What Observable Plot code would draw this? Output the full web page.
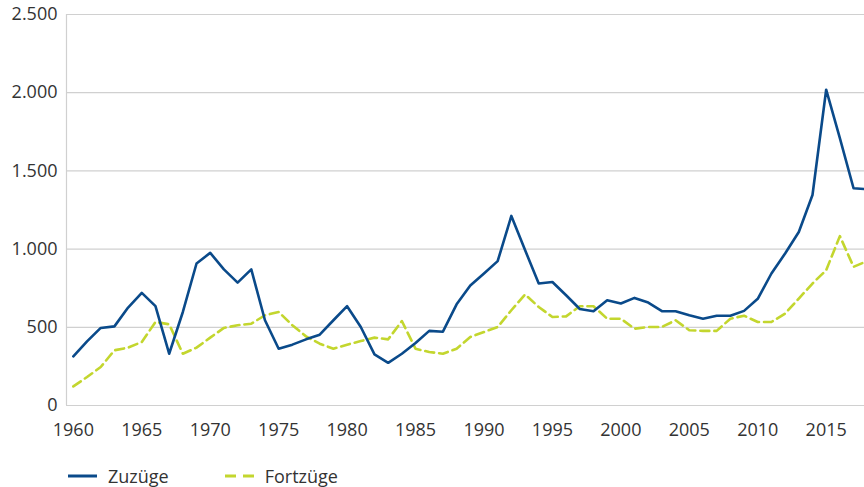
<!DOCTYPE html>
<html>
<head>
<meta charset="utf-8">
<script src="https://cdn.jsdelivr.net/npm/d3@7"></script>
<script src="https://cdn.jsdelivr.net/npm/@observablehq/plot@0.6"></script>
<style>
  body { margin: 0; background: #fff; font-family: "Open Sans", "Noto Sans", sans-serif; }
  #legend { display: flex; align-items: center; height: 42px; padding-top: 19px; box-sizing: border-box; font-size: 18px; color: #333; }
  .item { display: flex; align-items: center; }
</style>
</head>
<body>
<div id="chart"></div>
<div id="legend"></div>
<script>
const years = d3.range(1960, 2019);
const zuzuege = [314, 410, 496, 506, 626, 720, 635, 331, 598, 908,
  976, 870, 786, 870, 545, 363, 389, 423, 453, 545,
  635, 502, 327, 273, 331, 400, 477, 472, 647, 767,
  844, 923, 1212, 994, 780, 790, 705, 617, 603, 673,
  652, 688, 658, 603, 603, 577, 555, 574, 574, 605,
  682, 844, 972, 1109, 1346, 2019, 1709, 1389, 1383];
const fortzuege = [122, 182, 246, 353, 370, 406, 534, 519, 331, 370,
  434, 496, 513, 523, 577, 598, 513, 442, 395, 363,
  389, 412, 434, 423, 540, 363, 342, 331, 363, 438,
  470, 502, 609, 710, 630, 566, 570, 635, 635, 555,
  555, 491, 502, 502, 545, 481, 477, 477, 555, 574,
  534, 534, 588, 684, 780, 865, 1083, 887, 923];
const seriesNames = ["Zuzüge", "Fortzüge"];
const xTicks = d3.range(1960, 2016, 5);
const yTicks = [0, 500, 1000, 1500, 2000, 2500];

const blue = "#0a4a8a";
const green = "#c3d62e";

const rowsZ = years.map((y, i) => ({year: y, value: zuzuege[i]}));
const rowsF = years.map((y, i) => ({year: y, value: fortzuege[i]}));

const de = d3.formatLocale({decimal: ",", thousands: ".", grouping: [3], currency: ["", "€"]});
const fmt = de.format(",d");

const plot = Plot.plot({
  width: 864,
  height: 445,
  marginLeft: 66,
  marginRight: 0,
  marginTop: 14,
  marginBottom: 40,
  style: {fontFamily: "'Open Sans', 'Noto Sans', sans-serif", fontSize: "18px", color: "#333", background: "#fff"},
  x: {domain: [1959.5, 2017.8], label: null},
  y: {domain: [0, 2500], label: null},
  marks: [
    Plot.gridY(yTicks, {stroke: "#d0d0d0", strokeOpacity: 1, strokeWidth: 1.2}),
    Plot.ruleX([1959.5], {y1: 0, y2: 2500, stroke: "#d0d0d0", strokeWidth: 1.2}),
    Plot.axisX({ticks: xTicks, tickFormat: d => String(d), tickSize: 0, tickPadding: 18, fill: "#333"}),
    Plot.axisY({ticks: yTicks, tickFormat: fmt, tickSize: 0, tickPadding: 9, fill: "#333"}),
    Plot.line(rowsF, {x: "year", y: "value", stroke: green, strokeWidth: 2.6, strokeDasharray: "9,5", clip: true}),
    Plot.line(rowsZ, {x: "year", y: "value", stroke: blue, strokeWidth: 2.6, clip: true})
  ]
});
document.getElementById("chart").appendChild(plot);

const legend = document.getElementById("legend");
legend.innerHTML = `
  <div class="item" style="margin-left:68px;">
    <svg width="29" height="6"><line x1="0" y1="3" x2="29" y2="3" stroke="${blue}" stroke-width="3"/></svg>
    <span style="margin-left:11px;">${seriesNames[0]}</span>
  </div>
  <div class="item" style="margin-left:56px;">
    <svg width="29" height="6"><line x1="0" y1="3" x2="29" y2="3" stroke="${green}" stroke-width="3" stroke-dasharray="11,7"/></svg>
    <span style="margin-left:11px;">${seriesNames[1]}</span>
  </div>`;
</script>
</body>
</html>
